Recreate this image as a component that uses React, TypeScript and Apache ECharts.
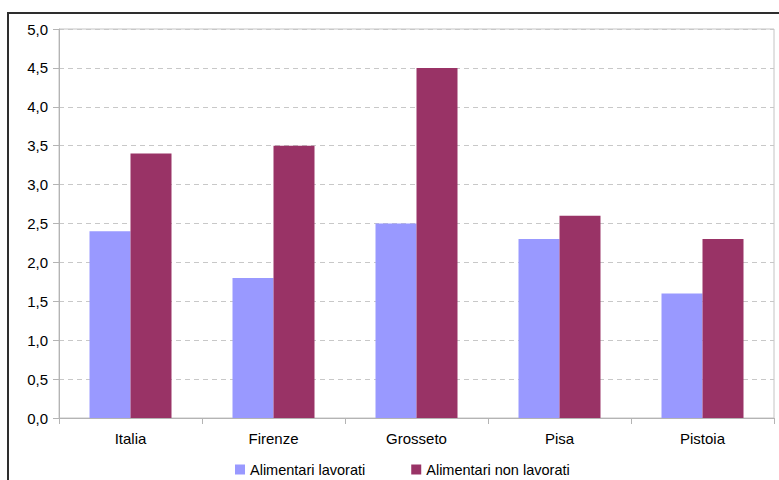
import React, { useEffect, useRef } from "react";
import * as echarts from "echarts";

const categories = ["Italia", "Firenze", "Grosseto", "Pisa", "Pistoia"];
const lavorati = [2.4, 1.8, 2.5, 2.3, 1.6];
const nonLavorati = [3.4, 3.5, 4.5, 2.6, 2.3];
const seriesNames = ["Alimentari lavorati", "Alimentari non lavorati"];

const FONT = "'Liberation Sans', Arial, sans-serif";

export default function App() {
  const ref = useRef<HTMLDivElement>(null);

  useEffect(() => {
    if (!ref.current) return;
    const chart = echarts.init(ref.current, null, { renderer: "svg" });
    chart.setOption({
      animation: false,
      backgroundColor: "#ffffff",
      textStyle: { fontFamily: FONT },
      graphic: [
        {
          // outer frame of the chart box
          type: "rect",
          shape: { x: 8, y: 13, width: 900, height: 600 },
          style: { fill: "none", stroke: "#2e2e2e", lineWidth: 2 },
          z: 10,
        },
      ],
      grid: {
        left: 59,
        right: 5,
        top: 29,
        bottom: 62,
        show: true,
        borderColor: "#c4c4c4",
        borderWidth: 1,
      },
      legend: {
        left: 235,
        top: 462,
        padding: 0,
        icon: "rect",
        itemWidth: 10,
        itemHeight: 10,
        itemGap: 46,
        textStyle: { fontFamily: FONT, fontSize: 14.5, color: "#000" },
        data: seriesNames,
      },
      xAxis: {
        type: "category",
        data: categories,
        axisLine: { lineStyle: { color: "#b4b4b4", width: 1 } },
        axisTick: { show: true, alignWithLabel: false, length: 6, lineStyle: { color: "#b4b4b4" } },
        axisLabel: { color: "#000", fontFamily: FONT, fontSize: 15, margin: 13 },
      },
      yAxis: {
        type: "value",
        min: 0,
        max: 5,
        interval: 0.5,
        axisLine: { show: true, lineStyle: { color: "#b4b4b4", width: 1 } },
        axisTick: { show: true, length: 6, lineStyle: { color: "#b4b4b4" } },
        axisLabel: {
          color: "#000",
          fontFamily: FONT,
          fontSize: 15,
          margin: 11,
          formatter: (v: number) => v.toFixed(1).replace(".", ","),
        },
        splitLine: { lineStyle: { color: "#c8c8c8", type: [5, 4], width: 1 } },
      },
      series: [
        {
          name: seriesNames[0],
          type: "bar",
          data: lavorati,
          barWidth: 41,
          barGap: "0%",
          itemStyle: { color: "#9999ff" },
        },
        {
          name: seriesNames[1],
          type: "bar",
          data: nonLavorati,
          barWidth: 41,
          barGap: "0%",
          itemStyle: { color: "#993366" },
        },
      ],
    });
    return () => chart.dispose();
  }, []);

  return (
    <div
      ref={ref}
      style={{ position: "fixed", left: 0, top: 0, width: 779, height: 480 }}
    />
  );
}
